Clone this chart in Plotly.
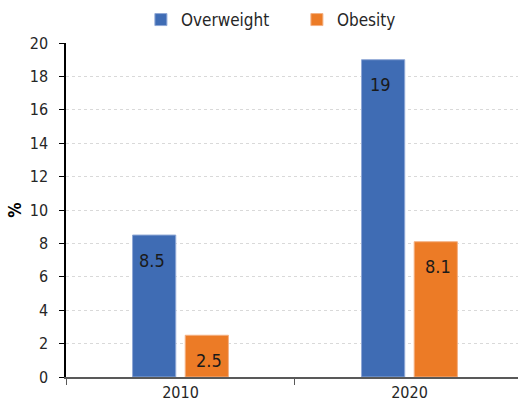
import plotly.graph_objects as go

# Prevalence of overweight and obesity (%)
years = ["2010", "2020"]
overweight = [8.5, 19]
obesity = [2.5, 8.1]
y_ticks = [0, 2, 4, 6, 8, 10, 12, 14, 16, 18, 20]

BLUE = "#3F6CB4"
ORANGE = "#EC7B26"
FONT = "DejaVu Sans Condensed, Liberation Sans Narrow, sans-serif"

fig = go.Figure()
fig.add_trace(go.Bar(
    name="Overweight", x=years, y=overweight,
    marker=dict(color=BLUE, line=dict(color="#8FA8D6", width=1)),
))
fig.add_trace(go.Bar(
    name="Obesity", x=years, y=obesity,
    marker=dict(color=ORANGE, line=dict(color="#F4B083", width=1)),
))

# value labels just below the top of each bar
for vals, shift in ((overweight, -28.5), (obesity, 29)):
    for i, v in enumerate(vals):
        fig.add_annotation(
            x=i, y=v, xref="x", yref="y", text=f"{v:g}", showarrow=False,
            xshift=shift, yshift=-25,
            font=dict(family=FONT, size=18, color="#1A1A1A"),
        )

fig.update_layout(
    width=518, height=405,
    margin=dict(l=66, r=0, t=43, b=28),
    paper_bgcolor="white", plot_bgcolor="white",
    barmode="group", bargap=0.54, bargroupgap=0.18,
    font=dict(family=FONT, size=16, color="#262626"),
    showlegend=True,
    legend=dict(
        orientation="h", xref="container", yref="container",
        x=0.272, y=0.995, xanchor="left", yanchor="top",
        font=dict(family=FONT, size=17, color="#262626"),
        itemwidth=30, entrywidth=111, traceorder="normal",
    ),
)

fig.update_xaxes(
    type="category", range=[-0.5, 1.474], automargin=False,
    showline=True, linecolor="#595959", linewidth=2,
    ticks="outside", tickson="boundaries", ticklen=6, tickcolor="#595959",
    tickfont=dict(size=16, color="#262626"), ticklabelstandoff=0,
    showgrid=False, zeroline=False,
)
fig.update_yaxes(
    range=[0, 20], tickvals=y_ticks, automargin=False,
    showline=True, linecolor="#000000", linewidth=1.5,
    ticks="outside", ticklen=5, tickcolor="#000000",
    tickfont=dict(size=16, color="#262626"), ticklabelstandoff=8,
    showgrid=True, gridcolor="#D9D9D9", gridwidth=1, griddash="3px,3px",
    zeroline=False,
    title=dict(text="<b>%</b>", font=dict(size=17, color="#000000"), standoff=4),
)

fig.write_html("out.html")
